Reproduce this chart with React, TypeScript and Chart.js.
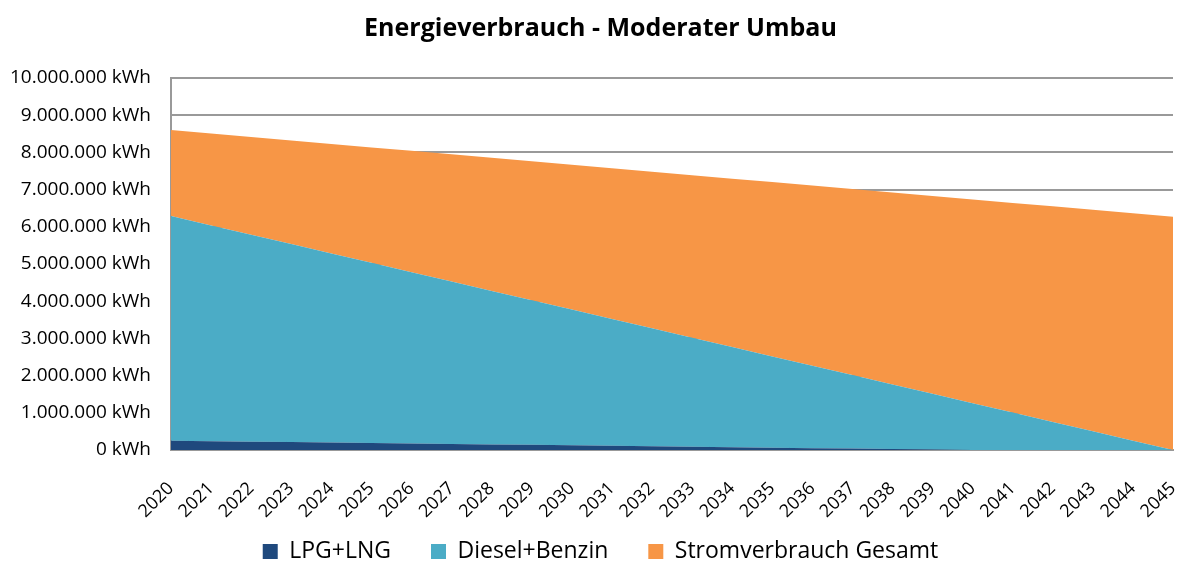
import React, { useEffect, useRef } from "react";
import { Chart, registerables } from "chart.js";

Chart.register(...registerables);

const years: string[] = [
  "2020", "2021", "2022", "2023", "2024", "2025", "2026", "2027", "2028", "2029",
  "2030", "2031", "2032", "2033", "2034", "2035", "2036", "2037", "2038", "2039",
  "2040", "2041", "2042", "2043", "2044", "2045",
];

const lpgLng: number[] = [
  250000, 238000, 225000, 213000, 200000, 188000, 175000, 163000, 150000, 138000,
  125000, 113000, 100000, 88000, 75000, 63000, 50000, 38000, 25000, 13000,
  0, 0, 0, 0, 0, 0,
];

const dieselBenzin: number[] = [
  6040000, 5800000, 5562000, 5322000, 5084000, 4844000, 4605000, 4366000, 4127000, 3888000,
  3649000, 3409000, 3171000, 2931000, 2693000, 2453000, 2214000, 1975000, 1736000, 1497000,
  1258000, 1006000, 755000, 503000, 252000, 0,
];

const stromGesamt: number[] = [
  2310000, 2469000, 2627000, 2785000, 2943000, 3102000, 3261000, 3419000, 3577000, 3735000,
  3894000, 4053000, 4211000, 4369000, 4527000, 4686000, 4845000, 5003000, 5161000, 5319000,
  5478000, 5637000, 5795000, 5953000, 6111000, 6270000,
];

const yMax = 10000000;
const yStep = 1000000;

const FONT = "'Open Sans', 'DejaVu Sans', sans-serif";

function formatKwh(v: number): string {
  const s = Math.round(v).toString().replace(/\B(?=(\d{3})+(?!\d))/g, ".");
  return s + " kWh";
}

export default function App() {
  const ref = useRef<HTMLCanvasElement | null>(null);

  useEffect(() => {
    document.body.style.margin = "0";
    const canvas = ref.current;
    if (!canvas) return;
    const chart = new Chart(canvas, {
      type: "line",
      data: {
        labels: years,
        datasets: [
          {
            label: "LPG+LNG",
            data: lpgLng,
            backgroundColor: "#1F497D",
            borderColor: "#1F497D",
            borderWidth: 0,
            pointRadius: 0,
            fill: "origin",
          },
          {
            label: "Diesel+Benzin",
            data: dieselBenzin,
            backgroundColor: "#4BACC6",
            borderColor: "#4BACC6",
            borderWidth: 0,
            pointRadius: 0,
            fill: "-1",
          },
          {
            label: "Stromverbrauch Gesamt",
            data: stromGesamt,
            backgroundColor: "#F79646",
            borderColor: "#F79646",
            borderWidth: 0,
            pointRadius: 0,
            fill: "-1",
          },
        ],
      },
      options: {
        animation: false,
        responsive: false,
        maintainAspectRatio: false,
        layout: { padding: { top: 12, left: 28, right: 4, bottom: 0 } },
        plugins: {
          title: {
            display: true,
            text: "Energieverbrauch - Moderater Umbau",
            color: "#000",
            font: { family: FONT, size: 25, weight: "bold" },
            padding: { top: 2, bottom: 34 },
          },
          legend: {
            position: "bottom",
            maxHeight: 62,
            labels: {
              color: "#000",
              font: { family: FONT, size: 23 },
              boxWidth: 15,
              boxHeight: 15,
              padding: 40,
            },
          },
          tooltip: { enabled: false },
        },
        scales: {
          x: {
            grid: { display: false },
            border: { display: true, color: "#999", width: 2 },
            ticks: {
              color: "#000",
              font: { family: FONT, size: 18 },
              minRotation: 45,
              maxRotation: 45,
              autoSkip: false,
              padding: 20,
            },
            afterFit: (scale: any) => {
              scale.paddingLeft = 0;
              scale.paddingRight = 0;
              scale.height = 50;
              scale._computeLabelArea = () => undefined;
            },
          },
          y: {
            stacked: true,
            min: 0,
            max: yMax,
            grid: { color: "#999", lineWidth: 2, drawTicks: false },
            border: { display: true, color: "#999", width: 2 },
            ticks: {
              stepSize: yStep,
              color: "#000",
              font: { family: FONT, size: 19 },
              padding: 20,
              callback: (v: any) => formatKwh(Number(v)),
            },
            afterFit: (scale: any) => {
              scale.width = 143;
              scale._computeLabelArea = () => undefined;
            },
          },
        },
      },
    });
    return () => chart.destroy();
  }, []);

  return (
    <div style={{ width: 1177, height: 562 }}>
      <canvas ref={ref} width={1177} height={562} style={{ width: 1177, height: 562 }} />
    </div>
  );
}
